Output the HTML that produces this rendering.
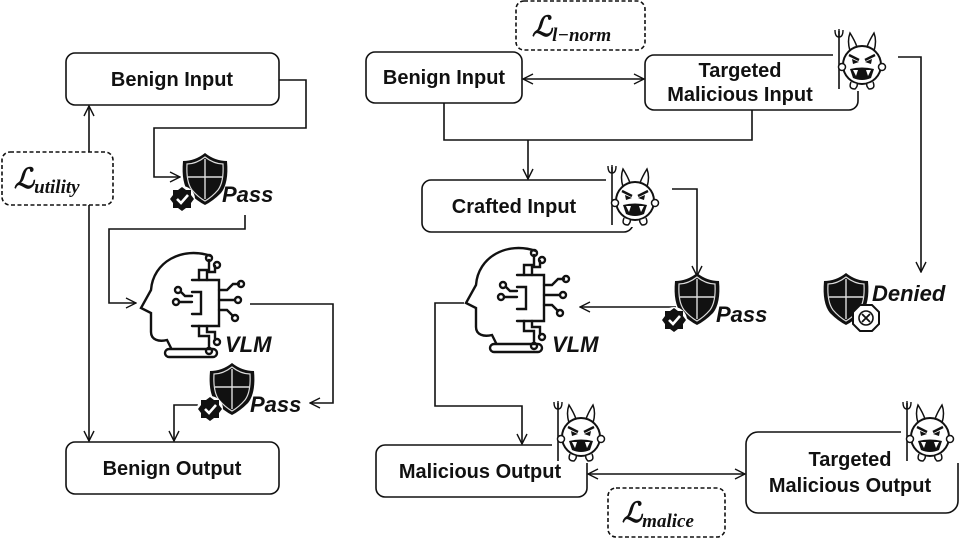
<!DOCTYPE html>
<html><head><meta charset="utf-8"><style>
html,body{margin:0;padding:0;background:#fff;}
svg{display:block;}
text{font-family:"Liberation Sans",sans-serif;font-weight:bold;fill:#111;}
.lbl{font-size:20px;}
.it{font-style:italic;font-size:22px;}
.math{font-family:"Liberation Serif",serif;font-style:italic;font-weight:bold;}
</style></head><body>
<svg width="969" height="538" viewBox="0 0 969 538" xmlns="http://www.w3.org/2000/svg">
<defs>
<marker id="ah" viewBox="0 0 12 12" refX="11" refY="6" markerWidth="12" markerHeight="12" markerUnits="userSpaceOnUse" orient="auto-start-reverse">
<path d="M1,1 L11,6 L1,11" fill="none" stroke="#111" stroke-width="1.4"/>
</marker>
<g id="devil">
<rect x="-2" y="0" width="64" height="64" fill="#fff"/>
<line x1="4" y1="4" x2="4" y2="62" stroke="#111" stroke-width="1.6"/>
<path d="M0,3 Q0,10 4,10 Q8,10 8,3 M4,2 V10" fill="none" stroke="#111" stroke-width="1.4"/>
<path d="M15,24 Q12,14 15,6 Q20,14 22,20 M39,24 Q42,14 39,6 Q34,14 32,20" fill="#fff" stroke="#111" stroke-width="1.5"/>
<circle cx="27" cy="38" r="19" fill="#fff" stroke="#111" stroke-width="2"/>
<circle cx="7" cy="40" r="3.5" fill="#fff" stroke="#111" stroke-width="1.5"/>
<circle cx="47" cy="40" r="3.5" fill="#fff" stroke="#111" stroke-width="1.5"/>
<path d="M16,55 Q13,62 20,62 Q23,59 22,57 M38,55 Q41,62 34,62 Q31,59 32,57" fill="#fff" stroke="#111" stroke-width="1.5"/>
<path d="M14,28 L24,33 M40,28 L30,33" stroke="#111" stroke-width="2.4"/>
<path d="M17,32 L24,35 L18,37Z M37,32 L30,35 L36,37Z" fill="#111"/>
<path d="M15,42 Q27,39 39,42 L36,51 Q27,55 18,51Z" fill="#111"/>
<path d="M18,43 L21,49 L23,43Z M36,43 L33,49 L31,43Z" fill="#fff"/>
</g>
<g id="shield">
<path d="M20,0 Q30,8 42,8 Q44,30 36,40 Q28,48 20,52 Q12,48 4,40 Q-4,30 -2,8 Q10,8 20,0Z" fill="#111"/>
<path d="M20,4 Q29,11 38,11 Q39,29 33,37 Q27,44 20,48 Q13,44 7,37 Q1,29 2,11 Q11,11 20,4Z" fill="none" stroke="#ddd" stroke-width="1.2"/>
<path d="M20,6 V46 M3,24 H37" stroke="#ddd" stroke-width="1.4"/>
</g>
<g id="badge">
<circle r="13" fill="#fff"/>
<path d="M0,-12 L4,-9 L9,-9 L9,-4 L12,0 L9,4 L9,9 L4,9 L0,12 L-4,9 L-9,9 L-9,4 L-12,0 L-9,-4 L-9,-9 L-4,-9Z" fill="#111"/>
<path d="M-5,0 L-1,4 L6,-4" fill="none" stroke="#fff" stroke-width="2.6"/>
</g>
<g id="head" fill="none" stroke="#111" stroke-width="2.4" stroke-linecap="round">
<path d="M74,4 C45,-6 16,10 14,38 L4,56 L14,61 L14,80 C14,88 22,90 30,88 L34,96"/>
<rect x="28" y="97" width="52" height="8" rx="4"/>
<path d="M55,28 H82 V74 H55 M55,40 H64 V62 H55" />
<path d="M62,28 V18 H72 V8 M70,28 V20 H78 V14 M82,38 H90 L96,32 H102 M82,48 H98 M82,58 H90 L96,64 M62,74 V84 H72 V96 M70,74 V80 H78 V88 M55,44 H48 L44,40 M55,50 H42"/>
<circle cx="72" cy="6" r="3"/><circle cx="80" cy="13" r="3"/><circle cx="104" cy="32" r="3"/><circle cx="101" cy="48" r="3"/><circle cx="98" cy="66" r="3"/><circle cx="72" cy="99" r="3"/><circle cx="80" cy="90" r="3"/><circle cx="41" cy="38" r="3"/><circle cx="39" cy="50" r="3"/>
</g>
</defs>

<g fill="none" stroke="#111" stroke-width="1.6">
<rect x="66" y="53" width="213" height="52" rx="9"/>
<rect x="66" y="442" width="213" height="52" rx="9"/>
<rect x="2" y="152" width="111" height="53" rx="8" stroke-dasharray="4,2.5"/>
<line x1="89" y1="152" x2="89" y2="106" marker-end="url(#ah)"/>
<line x1="89" y1="205" x2="89" y2="441" marker-end="url(#ah)"/>
<polyline points="279,80 306,80 306,128 154,128 154,177 180,177" marker-end="url(#ah)"/>
<polyline points="245,215 245,229 109,229 109,303 136,303" marker-end="url(#ah)"/>
<polyline points="250,304 333,304 333,403 310,403" marker-end="url(#ah)"/>
<polyline points="205,405 174,405 174,441" marker-end="url(#ah)"/>
<rect x="516" y="1" width="129" height="49" rx="8" stroke-dasharray="4,2.5"/>
<rect x="366" y="52" width="156" height="51" rx="9"/>
<rect x="645" y="55" width="213" height="55" rx="9"/>
<line x1="523" y1="79" x2="644" y2="79" marker-start="url(#ah)" marker-end="url(#ah)"/>
<polyline points="444,103 444,140 752,140 752,110"/>
<line x1="528" y1="140" x2="528" y2="179" marker-end="url(#ah)"/>
<rect x="422" y="180" width="211" height="52" rx="9"/>
<polyline points="898,57 921,57 921,272" marker-end="url(#ah)"/>
<polyline points="672,189 697,189 697,276" marker-end="url(#ah)"/>
<line x1="676" y1="307" x2="580" y2="307" marker-end="url(#ah)"/>
<polyline points="464,303 435,303 435,406 522,406 522,444" marker-end="url(#ah)"/>
<rect x="376" y="445" width="211" height="52" rx="9"/>
<rect x="746" y="432" width="212" height="81" rx="12"/>
<line x1="588" y1="474" x2="745" y2="474" marker-start="url(#ah)" marker-end="url(#ah)"/>
<rect x="608" y="488" width="117" height="49" rx="8" stroke-dasharray="4,2.5"/>
</g>

<use href="#devil" x="835" y="27"/>
<use href="#devil" x="608" y="163"/>
<use href="#devil" x="554" y="399"/>
<use href="#devil" x="903" y="399"/>
<use href="#shield" x="185" y="153"/>
<use href="#badge" x="182" y="199"/>
<use href="#shield" x="212" y="363"/>
<use href="#badge" x="210" y="409"/>
<use href="#shield" x="677" y="273"/>
<use href="#badge" x="674" y="320"/>
<use href="#shield" x="826" y="273"/>
<g transform="translate(866,318)"><path d="M-6,-13 H6 L13,-6 V6 L6,13 H-6 L-13,6 V-6Z" fill="#fff" stroke="#111" stroke-width="2"/><circle r="7" fill="none" stroke="#111" stroke-width="1.6"/><path d="M-4,-4 L4,4 M4,-4 L-4,4" stroke="#111" stroke-width="1.8"/></g>
<use href="#head" x="137" y="252"/>
<use href="#head" x="462" y="247"/>

<text class="lbl" x="172" y="86" text-anchor="middle">Benign Input</text>
<text class="lbl" x="172" y="475" text-anchor="middle">Benign Output</text>
<text class="lbl" x="444" y="84" text-anchor="middle">Benign Input</text>
<text class="lbl" x="740" y="77" text-anchor="middle">Targeted</text>
<text class="lbl" x="740" y="101" text-anchor="middle">Malicious Input</text>
<text class="lbl" x="514" y="213" text-anchor="middle">Crafted Input</text>
<text class="lbl" x="480" y="478" text-anchor="middle">Malicious Output</text>
<text class="lbl" x="850" y="466" text-anchor="middle">Targeted</text>
<text class="lbl" x="850" y="492" text-anchor="middle">Malicious Output</text>
<text class="it" x="222" y="202">Pass</text>
<text class="it" x="250" y="412">Pass</text>
<text class="it" x="716" y="322">Pass</text>
<text class="it" x="872" y="301">Denied</text>
<text class="it" x="225" y="352">VLM</text>
<text class="it" x="552" y="352">VLM</text>
<text class="math" x="14" y="188" font-size="28">ℒ<tspan font-size="19" dy="5">utility</tspan></text>
<text class="math" x="532" y="36" font-size="28">ℒ<tspan font-size="19" dy="5">l−norm</tspan></text>
<text class="math" x="622" y="522" font-size="28">ℒ<tspan font-size="19" dy="5">malice</tspan></text>
</svg>
</body></html>
